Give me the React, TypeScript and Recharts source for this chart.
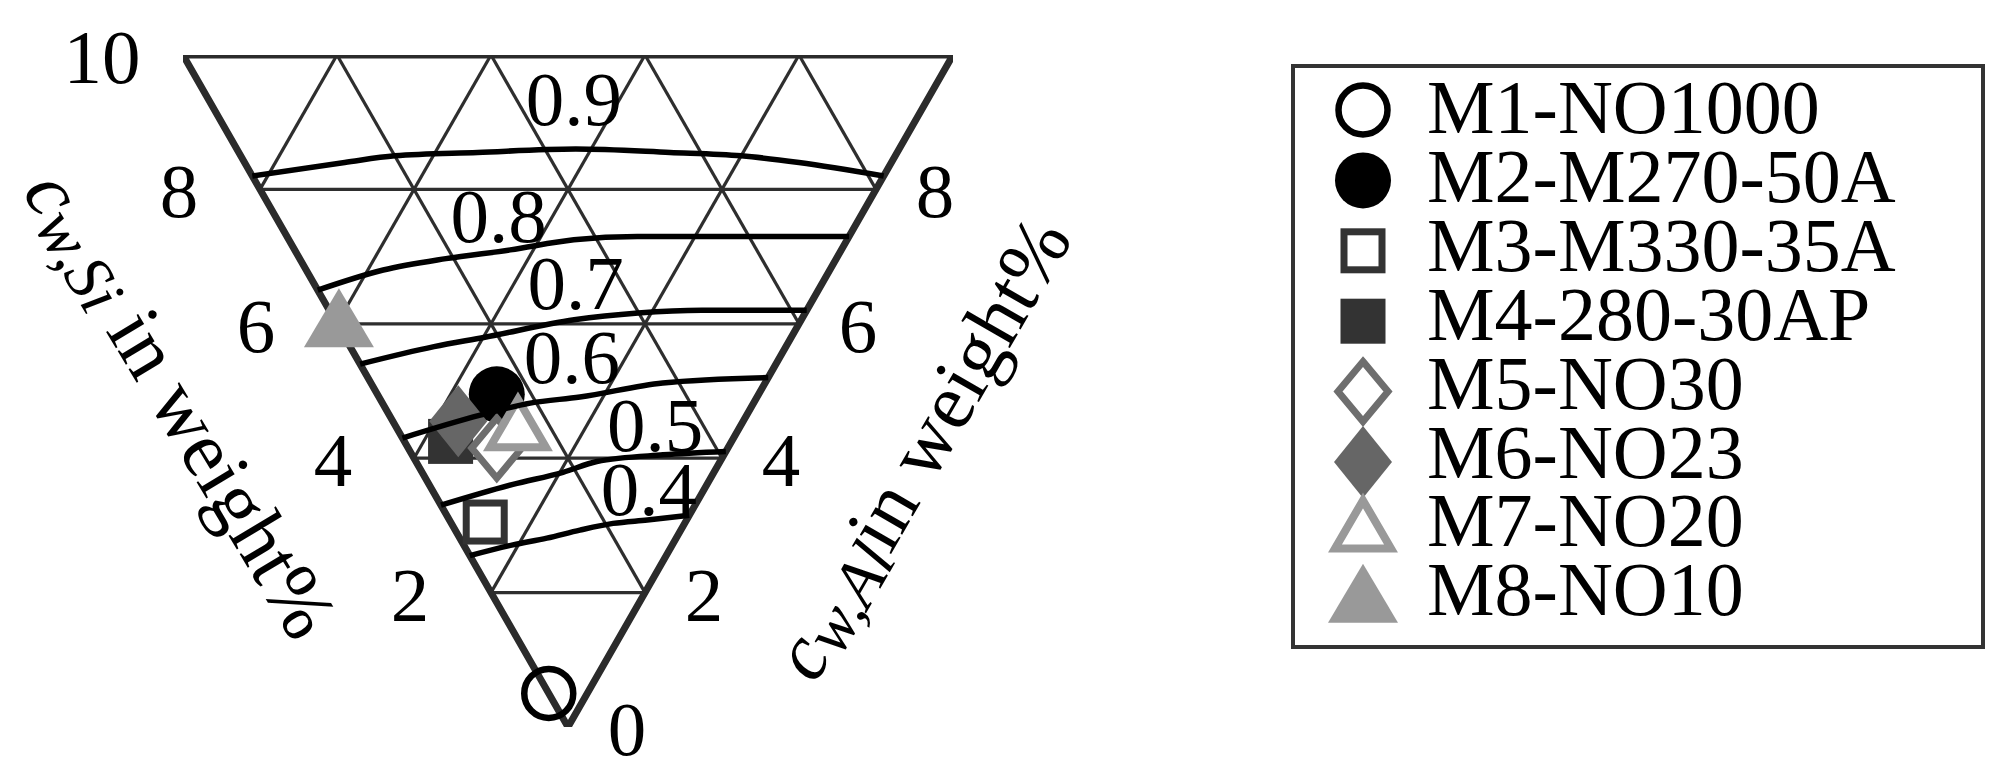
import React from "react";
import { ScatterChart, Scatter, XAxis, YAxis, ReferenceDot, Legend } from "recharts";

const FONT = "'Liberation Serif', 'Times New Roman', serif";

// axis scales (weight %)
const SI_TICKS = [10, 8, 6, 4, 2];
const AL_TICKS = [8, 6, 4, 2, 0];
const GRID_STEPS = [2, 4, 6, 8];

// materials: Si / Al content in weight %
const MATERIALS = [
  "M1-NO1000", "M2-M270-50A", "M3-M330-35A", "M4-280-30AP",
  "M5-NO30", "M6-NO23", "M7-NO20", "M8-NO10",
];
const MATERIAL_SI = [0.5, 3.4, 2.6, 3.65, 3.0, 3.7, 2.85, 5.95];
const MATERIAL_AL = [0.0, 1.55, 0.45, 0.6, 1.15, 0.85, 1.55, 0.0];

// iso-lines, [Si, Al] pairs
const CONTOUR_LEVELS = ["0.9", "0.8", "0.7", "0.6", "0.5", "0.4"];
const CONTOUR_09 = [[8.2, 0], [7.1, 1.3], [6.5, 2.0], [5.45, 3.1], [4.2, 4.4], [2.95, 5.6], [2.0, 6.5], [1.2, 7.2], [0, 8.2]];
const CONTOUR_08 = [[6.5, 0], [5.8, 1.0], [5.07, 1.9], [4.3, 2.8], [3.55, 3.7], [2.75, 4.55], [1.9, 5.4], [0, 7.3]];
const CONTOUR_07 = [[5.4, 0], [4.57, 1.09], [3.98, 1.82], [2.95, 3.11], [2.17, 3.99], [1.36, 4.84], [0, 6.2]];
const CONTOUR_06 = [[4.3, 0], [3.46, 1.18], [2.9, 1.92], [2.3, 2.61], [1.33, 3.79], [0, 5.2]];
const CONTOUR_05 = [[3.3, 0], [2.52, 1.09], [1.96, 1.83], [1.6, 2.35], [0.79, 3.26], [0, 4.1]];
const CONTOUR_04 = [[2.55, 0], [2.07, 0.64], [1.68, 1.13], [1.31, 1.62], [0.93, 2.1], [0.51, 2.57], [0, 3.15]];
const CONTOUR_LABEL_SI = [4.6, 4.7, 3.2, 2.7, 1.12, 0.72];
const CONTOUR_LABEL_AL = [4.75, 2.9, 3.4, 2.8, 3.38, 2.82];

const CONTOURS = [CONTOUR_09, CONTOUR_08, CONTOUR_07, CONTOUR_06, CONTOUR_05, CONTOUR_04];

const toXY = (si: number, al: number) => ({ x: al - si, y: al + si });

const MARKER_COLORS = ["#000", "#000", "#333", "#333", "#6e6e6e", "#666", "#999", "#999"];

function drawMarker(i: number, cx: number, cy: number) {
  const c = MARKER_COLORS[i];
  switch (i) {
    case 0:
      return <circle cx={cx} cy={cy} r={24.5} fill="none" stroke={c} strokeWidth={6.5} />;
    case 1:
      return <circle cx={cx} cy={cy} r={28} fill={c} />;
    case 2:
      return <rect x={cx - 19} y={cy - 19} width={38} height={38} fill="#fff" stroke={c} strokeWidth={7} />;
    case 3:
      return <rect x={cx - 22.5} y={cy - 22.5} width={45} height={45} fill={c} />;
    case 4:
      return (
        <polygon
          points={`${cx},${cy - 30} ${cx + 25},${cy} ${cx},${cy + 30} ${cx - 25},${cy}`}
          fill="#fff" stroke={c} strokeWidth={7}
        />
      );
    case 5:
      return <polygon points={`${cx},${cy - 36} ${cx + 29},${cy} ${cx},${cy + 36} ${cx - 29},${cy}`} fill={c} />;
    case 6:
      return (
        <polygon
          points={`${cx},${cy - 32} ${cx + 28},${cy + 16} ${cx - 28},${cy + 16}`}
          fill="#fff" stroke={c} strokeWidth={8}
        />
      );
    default:
      return <polygon points={`${cx},${cy - 39} ${cx + 35},${cy + 20} ${cx - 35},${cy + 20}`} fill={c} />;
  }
}

const noShape = () => <g />;

function LegendBox() {
  return (
    <div style={{ width: 694, height: 585, border: "4px solid #333", boxSizing: "border-box", background: "#fff" }}>
      <svg width={686} height={577} style={{ display: "block" }}>
        {MATERIALS.map((m, i) => (
          <g key={m}>
            {drawMarker(i, 68, 42 + i * 70.4)}
            <text x={132} y={65 + i * 68.9} fontFamily={FONT} fontSize={76} fill="#000">
              {m}
            </text>
          </g>
        ))}
      </svg>
    </div>
  );
}

export default function App() {
  const gridSegments = GRID_STEPS.flatMap((k) => [
    [{ x: -k, y: k }, { x: k, y: k }],
    [{ x: k, y: k }, { x: 2 * k - 10, y: 10 }],
    [{ x: -k, y: k }, { x: 10 - 2 * k, y: 10 }],
  ]);
  const frame = [toXY(10, 0), toXY(0, 10), toXY(0, 0), toXY(10, 0), toXY(0, 10)];
  const tickStyle = { fontFamily: FONT, fontSize: 77, fill: "#000" };

  return (
    <div style={{ position: "absolute", left: 0, top: 0, width: 2011, height: 775, background: "#fff" }}>
      <ScatterChart width={2011} height={775} margin={{ top: 55, right: 1058, bottom: 48, left: 183 }}>
        <XAxis type="number" dataKey="x" domain={[-10, 10]} hide allowDataOverflow />
        <YAxis type="number" dataKey="y" domain={[0, 10]} hide allowDataOverflow />

        {gridSegments.map((seg, i) => (
          <Scatter
            key={`grid-${i}`}
            data={seg}
            line={{ stroke: "#2e2e2e", strokeWidth: 3.2 }}
            shape={noShape}
            legendType="none"
            isAnimationActive={false}
          />
        ))}

        <Scatter
          data={frame}
          line={{ stroke: "#2b2b2b", strokeWidth: 7, strokeLinejoin: "miter" }}
          shape={noShape}
          legendType="none"
          isAnimationActive={false}
        />

        {MATERIALS.map((m, i) => (
          <Scatter
            key={m}
            name={m}
            data={[toXY(MATERIAL_SI[i], MATERIAL_AL[i])]}
            shape={(p: any) => drawMarker(i, p.cx, p.cy)}
            isAnimationActive={false}
          />
        ))}

        {CONTOURS.map((pts, i) => (
          <Scatter
            key={`iso-${CONTOUR_LEVELS[i]}`}
            data={pts.map(([si, al]) => toXY(si, al))}
            line={{ stroke: "#000", strokeWidth: 5.5, fill: "none" }}
            lineJointType="monotoneX"
            shape={noShape}
            legendType="none"
            isAnimationActive={false}
          />
        ))}

        {CONTOUR_LEVELS.map((lv, i) => {
          const p = toXY(CONTOUR_LABEL_SI[i], CONTOUR_LABEL_AL[i]);
          return (
            <ReferenceDot
              key={`lbl-${lv}`}
              x={p.x}
              y={p.y}
              r={0}
              ifOverflow="visible"
              shape={(s: any) => (
                <text x={s.cx} y={s.cy} textAnchor="middle" dominantBaseline="central" {...tickStyle}>
                  {lv}
                </text>
              )}
            />
          );
        })}

        {SI_TICKS.map((t) => {
          const p = toXY(t, 0);
          return (
            <ReferenceDot
              key={`si-${t}`}
              x={p.x}
              y={p.y}
              r={0}
              ifOverflow="visible"
              shape={(s: any) => (
                <text x={s.cx - 81} y={s.cy + 2} textAnchor="middle" dominantBaseline="central" {...tickStyle}>
                  {t}
                </text>
              )}
            />
          );
        })}

        {AL_TICKS.map((t) => {
          const p = toXY(0, t);
          return (
            <ReferenceDot
              key={`al-${t}`}
              x={p.x}
              y={p.y}
              r={0}
              ifOverflow="visible"
              shape={(s: any) => (
                <text x={s.cx + 59} y={s.cy + 2} textAnchor="middle" dominantBaseline="central" {...tickStyle}>
                  {t}
                </text>
              )}
            />
          );
        })}

        <text
          transform="translate(181,404) rotate(59)"
          textAnchor="middle"
          dominantBaseline="central"
          fontFamily={FONT}
          fontSize={80}
          fill="#000"
        >
          <tspan fontStyle="italic">c</tspan>
          <tspan fontStyle="italic" fontSize={66} dy={12}>w,Si</tspan>
          <tspan dy={-12}> in weight%</tspan>
        </text>
        <text
          transform="translate(921,448) rotate(-60)"
          textAnchor="middle"
          dominantBaseline="central"
          fontFamily={FONT}
          fontSize={80}
          fill="#000"
        >
          <tspan fontStyle="italic">c</tspan>
          <tspan fontStyle="italic" fontSize={66} dy={12}>w,Al</tspan>
          <tspan dy={-12}>in weight%</tspan>
        </text>

        <Legend
          layout="vertical"
          align="center"
          verticalAlign="middle"
          content={() => <LegendBox />}
          wrapperStyle={{ left: 1291, top: 64, width: 694, height: 585 }}
        />
      </ScatterChart>
    </div>
  );
}
